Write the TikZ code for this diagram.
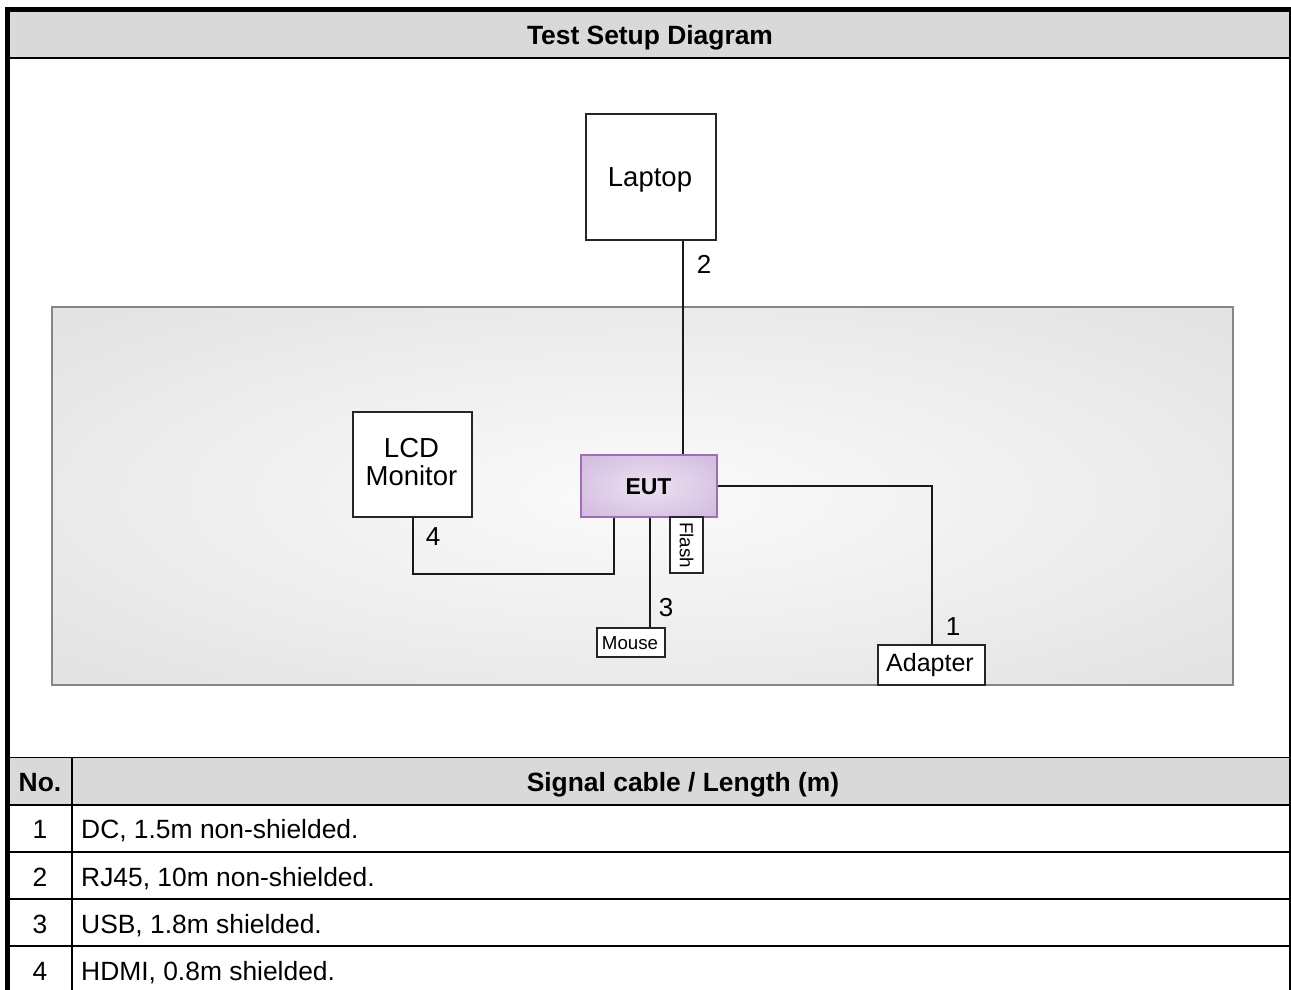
\documentclass[tikz,border=0pt]{standalone}
\usepackage{fontspec}
\setmainfont{Liberation Sans}
\usetikzlibrary{calc}
\definecolor{hdrgray}{HTML}{D9D9D9}
\definecolor{panelin}{HTML}{FBFBFB}
\definecolor{panelout}{HTML}{D8D8D8}
\definecolor{panelborder}{HTML}{858585}
\definecolor{eutin}{HTML}{EBE2F1}
\definecolor{eutout}{HTML}{C7A8D8}
\definecolor{eutborder}{HTML}{9E6DB2}
\pgfdeclareradialshading{panelshade}{\pgfpoint{0bp}{0bp}}{color(0bp)=(panelin); color(50bp)=(panelout); color(72bp)=(panelout)}
\pgfdeclareradialshading{eutshade}{\pgfpoint{0bp}{0bp}}{color(0bp)=(eutin); color(50bp)=(eutout); color(72bp)=(eutout)}
\tikzset{
  devbox/.style={draw=black!85, line width=2pt, fill=white, rectangle, inner sep=0pt, align=center},
  capbox/.style={inner sep=0pt, text height=#1, text depth=0pt},
  cable/.style={line width=2pt, draw=black!90},
  lbl/.style={capbox=18.6pt, font=\fontsize{26}{28}\selectfont},
  cell/.style={capbox=18.9pt, font=\fontsize{26.4}{28}\selectfont},
  hcell/.style={capbox=18.9pt, font=\bfseries\fontsize{26.4}{28}\selectfont},
  rule/.style={line width=2pt, draw=black}
}
\begin{document}
\begin{tikzpicture}[x=1pt,y=-1pt]
\useasboundingbox (0,0) rectangle (1291,990);
% header band
\fill[hdrgray] (10,12) rectangle (1289,57);
\node[hcell] (title) at (650,35) {Test Setup Diagram};
% gray panel
\draw[line width=2.5pt, draw=panelborder, shading=panelshade] (52,307) rectangle (1233,685);
% devices
\node[devbox, minimum width=130pt, minimum height=126pt] (laptop) at (651,177) {};
\node[capbox=19.7pt, font=\fontsize{27.5}{28}\selectfont] (laptoptext) at (650,177) {Laptop};
\node[devbox, minimum width=119pt, minimum height=105pt] (lcd) at (412.5,464.5) {};
\node[inner sep=0pt, align=center, font=\fontsize{27.5}{28}\selectfont] (lcdtext) at (411.5,462) {LCD\\Monitor};
\node[draw=eutborder, line width=2.5pt, shading=eutshade, rectangle, inner sep=0pt,
      minimum width=136pt, minimum height=62pt] (eut) at (649,486) {};
\node[capbox=16.5pt, font=\bfseries\fontsize{23}{24}\selectfont] (euttext) at (648.5,486) {EUT};
\node[devbox, minimum width=33pt, minimum height=56pt] (flashbox) at (686.5,545) {};
\node[font=\fontsize{18.8}{20}\selectfont, rotate=-90, inner sep=0pt] (flash) at (flashbox.center) {Flash};
\node[devbox, minimum width=68pt, minimum height=29pt] (mouse) at (631,642.5) {};
\node[capbox=13.4pt, font=\fontsize{18.7}{20}\selectfont] (mousetext) at (630,642.5) {Mouse};
\node[devbox, minimum width=107pt, minimum height=40pt] (adapter) at (931.5,665) {};
\node[capbox=17.9pt, font=\fontsize{25}{26}\selectfont] (adaptertext) at (930,663) {Adapter};
% cable x positions
\coordinate (x2) at (683,0);
\coordinate (x3) at (650,0);
\coordinate (c4) at (614,574);
% cables
\draw[cable] (laptop.south -| x2) -- (eut.north -| x2);
\draw[cable] (eut.east) -| (adapter.north);
\draw[cable] (eut.south -| x3) -- (mouse.north -| x3);
\draw[cable] (lcd.south) |- (c4) -- (eut.south -| c4);
% cable numbers
\node[lbl] (n2) at (704,264) {2};
\node[lbl] (n1) at (953,626) {1};
\node[lbl] (n3) at (666,607) {3};
\node[lbl] (n4) at (433,536) {4};
% table
\fill[hdrgray] (10,758) rectangle (1289,804);
\draw[line width=1.5pt] (10,757.5) -- (1289,757.5);
\draw[rule] (10,805) -- (1289,805);
\draw[rule] (10,852) -- (1289,852);
\draw[rule] (10,899) -- (1289,899);
\draw[rule] (10,946) -- (1289,946);
\draw[rule] (72,757) -- (72,990);
\node[hcell] (hno) at (40,782) {No.};
\node[hcell] (hsig) at (683,782) {Signal cable / Length (m)};
\node[cell] (r1n) at (40,829) {1};
\node[cell, anchor=west] (r1t) at (81,829) {DC, 1.5m non-shielded.};
\node[cell] (r2n) at (40,877) {2};
\node[cell, anchor=west] (r2t) at (81,877) {RJ45, 10m non-shielded.};
\node[cell] (r3n) at (40,924) {3};
\node[cell, anchor=west] (r3t) at (81,924) {USB, 1.8m shielded.};
\node[cell] (r4n) at (40,971) {4};
\node[cell, anchor=west] (r4t) at (81,971) {HDMI, 0.8m shielded.};
% frame
\draw[line width=2pt] (10,58) -- (1289,58);
\draw[line width=5pt] (5,9.5) -- (1291,9.5);
\draw[line width=5pt] (7.5,7) -- (7.5,990);
\draw[line width=2pt] (1290,7) -- (1290,990);
\end{tikzpicture}
\end{document}
